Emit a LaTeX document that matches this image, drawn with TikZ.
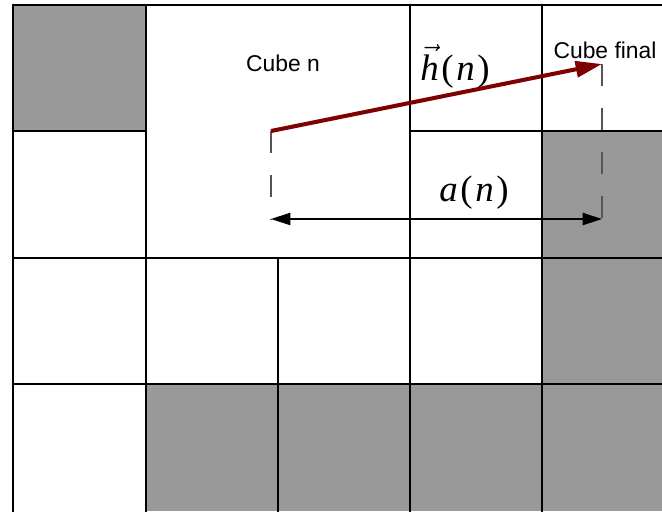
\documentclass[tikz,border=0pt]{standalone}
\usepackage{fontspec}
\setmainfont{Liberation Sans}
\newfontfamily\termfont{Liberation Serif}
\usepackage{xcolor}
\usetikzlibrary{arrows.meta, positioning}
\definecolor{cellgray}{HTML}{999999}
\definecolor{vecred}{HTML}{7F0000}
\definecolor{guidegray}{HTML}{555555}
\newcommand{\termit}[1]{{\termfont\itshape #1}}
\newcommand{\tgap}{\kern1.5pt}

\begin{document}
\begin{tikzpicture}[
  x=0.02cm, y=-0.02cm,
  gridline/.style={line width=1.5pt, line cap=rect},
  cubelabel/.style={font=\fontsize{13}{15}\selectfont, inner sep=0pt},
  termlabel/.style={font=\termfont\fontsize{21}{25}\selectfont, inner sep=0pt, anchor=base},
  vecarrow/.style={-{Triangle[length=15pt, width=9pt]}, line width=2.3pt, draw=vecred},
  dimarrow/.style={{Triangle[length=11pt, width=7pt]}-{Triangle[length=11pt, width=7pt]}, line width=0.6pt},
  guideline/.style={draw=guidegray, line width=0.8pt, dash pattern=on 12.5pt off 12.5pt}
]
\useasboundingbox (0,0) rectangle (662,511);

% ---------------- Shaded cubes ----------------
\fill[cellgray] (13,5) rectangle (146,131);
\fill[cellgray] (542,131) rectangle (662,384);
\fill[cellgray] (146,384) rectangle (662,511);

% ---------------- Grid ----------------
\draw[gridline] (13,511) -- (13,5) -- (662,5);
\draw[gridline] (13,131) -- (146,131);
\draw[gridline] (410,131) -- (662,131);
\foreach \y in {258,384}
  \draw[gridline] (13,\y) -- (662,\y);
\foreach \x in {146,410,542}
  \draw[gridline] (\x,5) -- (\x,511);
\draw[gridline] (278,258) -- (278,511);

% ---------------- Labels ----------------
\node[cubelabel] (cuben) at (283,63) {Cube n};
\node[cubelabel] (cubefinal) at (605,50) {Cube final};
\node[termlabel] (hn) at (455,80) {$\vec{\mbox{\termit{h}}}$\tgap(\tgap\termit{n}\tgap)};
\node[termlabel] (an) at (474,201) {\termit{a}\tgap(\tgap\termit{n}\tgap)};

% ---------------- Vector and distance ----------------
\coordinate (start) at (271,131);
\coordinate (final) at (602,64);
\coordinate (dimleft) at (271,219);
\coordinate (dimright) at (602,219);

\draw[guideline] (start) -- (dimleft);
\draw[guideline] (final) -- (dimright);
\draw[dimarrow] (dimleft) -- (dimright);
\draw[vecarrow] (start) -- (final);

\end{tikzpicture}
\end{document}
